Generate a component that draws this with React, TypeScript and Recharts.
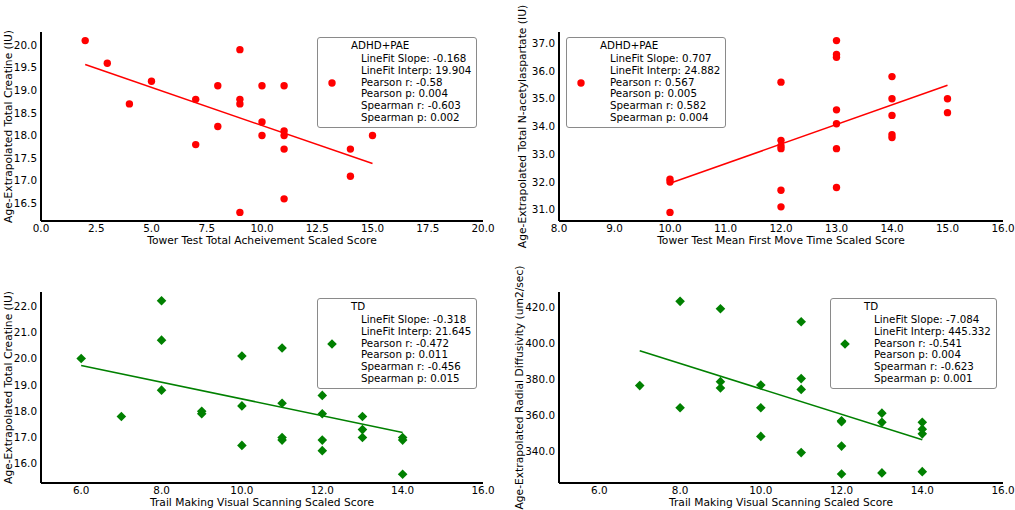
import { Scatter, ScatterChart, XAxis, YAxis } from "recharts";

const FONT = "DejaVu Sans";
const RED = "#ff0000";
const GREEN = "#008000";

// top left: ADHD+PAE, tower test total achievement vs creatine
const towerTotalX = [2, 3, 4, 5, 7, 7, 8, 8, 9, 9, 9, 9, 10, 10, 10, 11, 11, 11, 11, 11, 14, 14, 15];
const creatineAdhdY = [20.1, 19.6, 18.7, 19.2, 18.8, 17.8, 19.1, 18.2, 19.9, 18.8, 18.7, 16.3, 19.1, 18.3, 18.0, 19.1, 18.1, 18.0, 17.7, 16.6, 17.7, 17.1, 18.0];
const towerTotalFitX = [2, 15];
const towerTotalFitY = [19.57, 17.38];
const towerTotalStats = ["LineFit Slope: -0.168", "LineFit Interp: 19.904", "Pearson r: -0.58", "Pearson p: 0.004", "Spearman r: -0.603", "Spearman p: 0.002"];

// top right: ADHD+PAE, first move time vs NAA
const firstMoveX = [10, 10, 10, 12, 12, 12, 12, 12, 12, 13, 13, 13, 13, 13, 13, 13, 14, 14, 14, 14, 14, 15, 15];
const naaAdhdY = [32.1, 32.0, 30.9, 35.6, 33.5, 33.3, 33.2, 31.7, 31.1, 37.1, 36.6, 36.5, 34.6, 34.1, 33.2, 31.8, 35.8, 35.0, 34.4, 33.7, 33.6, 35.0, 34.5];
const firstMoveFitX = [10, 15];
const firstMoveFitY = [31.95, 35.49];
const firstMoveStats = ["LineFit Slope: 0.707", "LineFit Interp: 24.882", "Pearson r: 0.567", "Pearson p: 0.005", "Spearman r: 0.582", "Spearman p: 0.004"];

// bottom left: TD, trail making vs creatine
const trailCrX = [6, 7, 8, 8, 8, 9, 9, 10, 10, 10, 11, 11, 11, 11, 12, 12, 12, 12, 13, 13, 13, 14, 14, 14];
const creatineTdY = [20.0, 17.8, 22.2, 20.7, 18.8, 18.0, 17.9, 20.1, 18.2, 16.7, 20.4, 18.3, 17.0, 16.9, 18.6, 17.9, 16.9, 16.5, 17.8, 17.3, 17.0, 17.0, 16.9, 15.6];
const trailCrFitX = [6, 14];
const trailCrFitY = [19.74, 17.19];
const trailCrStats = ["LineFit Slope: -0.318", "LineFit Interp: 21.645", "Pearson r: -0.472", "Pearson p: 0.011", "Spearman r: -0.456", "Spearman p: 0.015"];

// bottom right: TD, trail making vs radial diffusivity
const trailRdX = [7, 8, 8, 9, 9, 9, 10, 10, 10, 11, 11, 11, 11, 12, 12, 12, 12, 13, 13, 13, 14, 14, 14, 14];
const radialTdY = [376.3, 423.1, 364.0, 419.0, 378.5, 375.0, 376.6, 364.0, 348.1, 411.8, 380.2, 374.2, 339.1, 356.8, 356.2, 342.7, 327.2, 361.0, 355.9, 327.8, 355.9, 352.1, 349.5, 328.5];
const trailRdFitX = [7, 14];
const trailRdFitY = [395.7, 346.2];
const trailRdStats = ["LineFit Slope: -7.084", "LineFit Interp: 445.332", "Pearson r: -0.541", "Pearson p: 0.004", "Spearman r: -0.623", "Spearman p: 0.001"];

const zip = (xs: number[], ys: number[]) => xs.map((x, i) => ({ x, y: ys[i] }));

const tickStyle = { fill: "#000", fontSize: 10.4, fontFamily: FONT };
const LABEL_SIZE = 10.7;

const Dot = (props: any) => <circle cx={props.cx} cy={props.cy} r={3.7} fill={RED} />;
const Diamond = (props: any) => {
  const { cx, cy } = props;
  const r = 4.8;
  return <polygon points={`${cx},${cy - r} ${cx + r},${cy} ${cx},${cy + r} ${cx - r},${cy}`} fill={GREEN} />;
};
const Nothing = () => <g />;

type PanelProps = {
  left: number;
  top: number;
  width: number;
  height: number;
  marginTop: number;
  marginRight: number;
  marginBottom: number;
  xHeight: number;
  yWidth: number;
  yLabelX: number;
  xDomain: [number, number];
  xTicks: number[];
  yDomain: [number, number];
  yTicks: number[];
  xLabel: string;
  yLabel: string;
  points: { x: number; y: number }[];
  fit: { x: number; y: number }[];
  color: string;
  diamond?: boolean;
  legendLeft: number;
  legendTop: number;
  title: string;
  stats: string[];
};

function Panel(p: PanelProps) {
  const xLabelContent = (props: any) => {
    const vb = props.viewBox;
    return (
      <text x={vb.x + vb.width / 2} y={vb.y + 22.5} textAnchor="middle" fill="#000" fontSize={LABEL_SIZE} fontFamily={FONT}>
        {p.xLabel}
      </text>
    );
  };
  const yLabelContent = (props: any) => {
    const vb = props.viewBox;
    const cx = vb.x + p.yLabelX;
    const cy = vb.y + vb.height / 2;
    return (
      <text
        x={cx}
        y={cy}
        dy="0.36em"
        transform={`rotate(-90, ${cx}, ${cy})`}
        textAnchor="middle"
        fill="#000"
        fontSize={LABEL_SIZE}
        fontFamily={FONT}
      >
        {p.yLabel}
      </text>
    );
  };

  return (
    <div style={{ position: "absolute", left: p.left, top: p.top, width: p.width, height: p.height }}>
      <ScatterChart
        width={p.width}
        height={p.height}
        margin={{ top: p.marginTop, right: p.marginRight, bottom: p.marginBottom, left: 0 }}
      >
        <XAxis
          type="number"
          dataKey="x"
          domain={p.xDomain}
          ticks={p.xTicks}
          interval={0}
          allowDataOverflow
          tickFormatter={(v: number) => v.toFixed(1)}
          axisLine={{ stroke: "#000", strokeWidth: 2 }}
          tickLine={false}
          tickSize={4}
          tickMargin={0}
          tick={tickStyle}
          height={p.xHeight}
          label={xLabelContent}
        />
        <YAxis
          type="number"
          dataKey="y"
          domain={p.yDomain}
          ticks={p.yTicks}
          interval={0}
          allowDataOverflow
          tickFormatter={(v: number) => v.toFixed(1)}
          axisLine={{ stroke: "#000", strokeWidth: 2 }}
          tickLine={false}
          tickSize={4}
          tickMargin={0}
          tick={tickStyle}
          width={p.yWidth}
          label={yLabelContent}
        />
        <Scatter data={p.points} fill={p.color} shape={p.diamond ? Diamond : Dot} isAnimationActive={false} />
        <Scatter
          data={p.fit}
          line={{ stroke: p.color, strokeWidth: 1.5 }}
          shape={Nothing}
          isAnimationActive={false}
        />
      </ScatterChart>

      {/* legend box */}
      <div
        style={{
          position: "absolute",
          left: p.legendLeft,
          top: p.legendTop,
          border: "1px solid #8a8a8a",
          borderRadius: 3,
          background: "rgba(255,255,255,0.85)",
          padding: "1px 5px 4px 33px",
          fontFamily: FONT,
          fontSize: 10.3,
          color: "#000",
          whiteSpace: "nowrap",
        }}
      >
        <svg width={12} height={12} style={{ position: "absolute", left: 13.5 - 6, top: 44.5 - 6 }}>
          {p.diamond ? (
            <polygon points="6,1.2 10.8,6 6,10.8 1.2,6" fill={GREEN} />
          ) : (
            <circle cx={6} cy={6} r={3.7} fill={RED} />
          )}
        </svg>
        <div style={{ lineHeight: "13.5px" }}>{p.title}</div>
        <div style={{ marginTop: 0.8, paddingLeft: 10 }}>
          {p.stats.map((s) => (
            <div key={s} style={{ lineHeight: "11.66px" }}>
              {s}
            </div>
          ))}
        </div>
      </div>
    </div>
  );
}

export default function App() {
  return (
    <div style={{ position: "absolute", left: 0, top: 0, width: 1015, height: 510, background: "#fff", overflow: "hidden" }}>
      <Panel
        left={0}
        top={0}
        width={505}
        height={255}
        marginTop={32}
        marginRight={22}
        marginBottom={4}
        xHeight={30}
        yWidth={41}
        yLabelX={8}
        xDomain={[0, 20]}
        xTicks={[0, 2.5, 5, 7.5, 10, 12.5, 15, 17.5, 20]}
        yDomain={[16.11, 20.29]}
        yTicks={[16.5, 17, 17.5, 18, 18.5, 19, 19.5, 20]}
        xLabel="Tower Test Total Acheivement Scaled Score"
        yLabel="Age-Extrapolated Total Creatine (IU)"
        points={zip(towerTotalX, creatineAdhdY)}
        fit={zip(towerTotalFitX, towerTotalFitY)}
        color={RED}
        legendLeft={317}
        legendTop={37}
        title="ADHD+PAE"
        stats={towerTotalStats}
      />
      <Panel
        left={505}
        top={0}
        width={510}
        height={255}
        marginTop={32}
        marginRight={12}
        marginBottom={4}
        xHeight={30}
        yWidth={54}
        yLabelX={17.5}
        xDomain={[8, 16]}
        xTicks={[8, 9, 10, 11, 12, 13, 14, 15, 16]}
        yDomain={[30.59, 37.41]}
        yTicks={[31, 32, 33, 34, 35, 36, 37]}
        xLabel="Tower Test Mean First Move Time Scaled Score"
        yLabel="Age-Extrapolated Total N-acetylaspartate (IU)"
        points={zip(firstMoveX, naaAdhdY)}
        fit={zip(firstMoveFitX, firstMoveFitY)}
        color={RED}
        legendLeft={61}
        legendTop={37}
        title="ADHD+PAE"
        stats={firstMoveStats}
      />
      <Panel
        left={0}
        top={255}
        width={505}
        height={255}
        marginTop={37}
        marginRight={22}
        marginBottom={0}
        xHeight={27}
        yWidth={41}
        yLabelX={8}
        xDomain={[5, 16]}
        xTicks={[6, 8, 10, 12, 14, 16]}
        yDomain={[15.27, 22.53]}
        yTicks={[16, 17, 18, 19, 20, 21, 22]}
        xLabel="Trail Making Visual Scanning Scaled Score"
        yLabel="Age-Extrapolated Total Creatine (IU)"
        points={zip(trailCrX, creatineTdY)}
        fit={zip(trailCrFitX, trailCrFitY)}
        color={GREEN}
        diamond
        legendLeft={317}
        legendTop={43}
        title="TD"
        stats={trailCrStats}
      />
      <Panel
        left={505}
        top={255}
        width={510}
        height={255}
        marginTop={37}
        marginRight={12}
        marginBottom={0}
        xHeight={27}
        yWidth={54}
        yLabelX={14}
        xDomain={[5, 16]}
        xTicks={[6, 8, 10, 12, 14, 16]}
        yDomain={[322.2, 428.3]}
        yTicks={[340, 360, 380, 400, 420]}
        xLabel="Trail Making Visual Scanning Scaled Score"
        yLabel="Age-Extrapolated Radial Diffusivity (um2/sec)"
        points={zip(trailRdX, radialTdY)}
        fit={zip(trailRdFitX, trailRdFitY)}
        color={GREEN}
        diamond
        legendLeft={325}
        legendTop={43}
        title="TD"
        stats={trailRdStats}
      />
    </div>
  );
}
